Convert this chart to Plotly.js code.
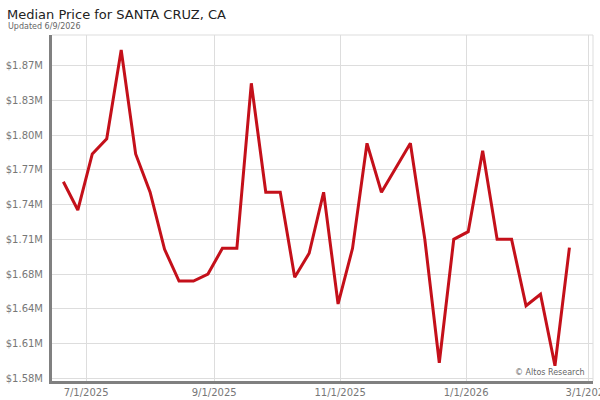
<!DOCTYPE html>
<html>
<head>
<meta charset="utf-8">
<script src="https://cdn.plot.ly/plotly-3.0.1.min.js"></script>
<style>html,body{margin:0;padding:0;background:#fff;}#chart{width:600px;height:400px;}</style>
</head>
<body>
<div id="chart"></div>
<script>
// Weekly dates (Fridays)
const dates = [
  '2025-06-20', '2025-06-27', '2025-07-04', '2025-07-11', '2025-07-18', '2025-07-25',
  '2025-08-01', '2025-08-08', '2025-08-15', '2025-08-22', '2025-08-29', '2025-09-05',
  '2025-09-12', '2025-09-19', '2025-09-26', '2025-10-03', '2025-10-10', '2025-10-17',
  '2025-10-24', '2025-10-31', '2025-11-07', '2025-11-14', '2025-11-21', '2025-11-28',
  '2025-12-05', '2025-12-12', '2025-12-19', '2025-12-26', '2026-01-02', '2026-01-09',
  '2026-01-16', '2026-01-23', '2026-01-30', '2026-02-06', '2026-02-13', '2026-02-20'
];
// Median price values (USD)
const medianPrice = [
  1760100, 1734300, 1785400, 1799300, 1880200, 1785400, 1750500, 1698500,
  1669600, 1669600, 1676000, 1699400, 1699400, 1849800, 1750500, 1750500,
  1673000, 1694900, 1750500, 1648700, 1699400, 1795100, 1750500, 1772600,
  1795100, 1707600, 1595100, 1707600, 1714600, 1788400, 1707600, 1707600,
  1647100, 1657500, 1592400, 1700000
];
const yTickVals = [1581200, 1612800, 1644400, 1676000, 1707600, 1739200, 1770800, 1802400, 1834000, 1865600];
const yTickText = ['$1.58M', '$1.61M', '$1.64M', '$1.68M', '$1.71M', '$1.74M', '$1.77M', '$1.80M', '$1.83M', '$1.87M'];
const xTickVals = ['2025-07-01', '2025-09-01', '2025-11-01', '2026-01-01', '2026-03-01'];
const xTickText = ['7/1/2025', '9/1/2025', '11/1/2025', '1/1/2026', '3/1/2026'];

const trace = {
  x: dates,
  y: medianPrice,
  type: 'scatter',
  mode: 'lines',
  line: {color: '#c4101a', width: 3},
  hoverinfo: 'x+y'
};

const layout = {
  width: 600,
  height: 400,
  margin: {l: 52, r: 7, t: 35, b: 19},
  paper_bgcolor: '#ffffff',
  plot_bgcolor: '#ffffff',
  showlegend: false,
  font: {family: 'DejaVu Sans, sans-serif', color: '#777777'},
  title: {
    text: 'Median Price for SANTA CRUZ, CA',
    xref: 'container', x: 7 / 600, xanchor: 'left',
    yref: 'container', y: 1 - 14 / 400, yanchor: 'middle',
    pad: {l: 0, r: 0, t: 0, b: 0},
    font: {family: 'DejaVu Sans, sans-serif', size: 13, color: '#222222'}
  },
  xaxis: {
    type: 'date',
    range: ['2025-06-14 12:00', '2026-03-03 10:00'],
    tickvals: xTickVals,
    ticktext: xTickText,
    tickfont: {size: 10, color: '#777777'},
    ticklabeloverflow: 'allow',
    showgrid: true,
    gridcolor: '#dddddd',
    gridwidth: 1,
    showline: true,
    linecolor: '#808080',
    linewidth: 3,
    ticks: '',
    zeroline: false,
    fixedrange: true
  },
  yaxis: {
    range: [1578500, 1893800],
    tickvals: yTickVals,
    ticktext: yTickText,
    tickfont: {size: 10, color: '#777777'},
    showgrid: true,
    gridcolor: '#dddddd',
    gridwidth: 1,
    showline: true,
    linecolor: '#808080',
    linewidth: 3,
    ticks: '',
    ticklabelstandoff: 4,
    zeroline: false,
    fixedrange: true
  },
  shapes: [
    {type: 'line', xref: 'paper', yref: 'paper', x0: 0, x1: 1, y0: 1, y1: 1, line: {color: '#dddddd', width: 1}, layer: 'below'},
    {type: 'line', xref: 'paper', yref: 'paper', x0: 1, x1: 1, y0: 0, y1: 1, line: {color: '#dddddd', width: 1}, layer: 'below'}
  ],
  annotations: [
    {
      text: 'Updated 6/9/2026',
      xref: 'paper', yref: 'paper',
      x: -46 / 541, xanchor: 'left',
      y: 1 + 9 / 346, yanchor: 'middle',
      showarrow: false,
      font: {family: 'DejaVu Sans, sans-serif', size: 8, color: '#666666'}
    },
    {
      text: '© Altos Research',
      xref: 'paper', yref: 'paper',
      x: 1 - 6 / 541, xanchor: 'right',
      y: 9 / 346, yanchor: 'middle',
      showarrow: false,
      font: {family: 'DejaVu Sans, sans-serif', size: 8, color: '#666666'}
    }
  ]
};

Plotly.newPlot('chart', [trace], layout, {displayModeBar: false, staticPlot: true});
</script>
</body>
</html>
